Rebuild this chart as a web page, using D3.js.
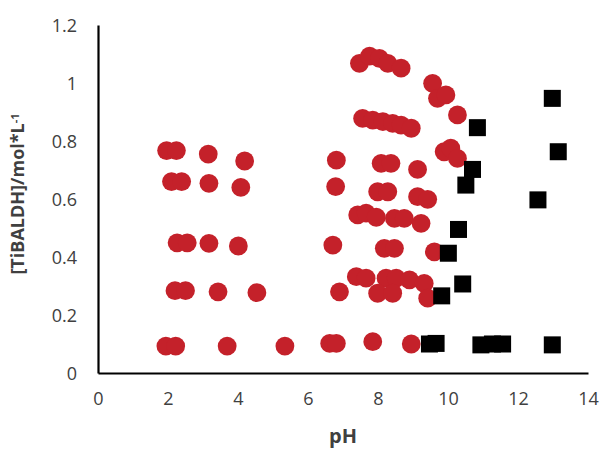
<!DOCTYPE html>
<html>
<head>
<meta charset="utf-8">
<script src="https://cdn.jsdelivr.net/npm/d3@7"></script>
<style>
  body { margin: 0; background: #fff; }
  svg text { font-family: "Open Sans", "Liberation Sans", sans-serif; }
</style>
</head>
<body>
<svg width="601" height="454"></svg>
<script>
// red circles: pH and concentration
const circlePH = [
  1.96, 2.24, 3.15, 4.19,
  2.10, 2.39, 3.17, 4.08,
  2.26, 2.55, 3.17, 4.01,
  2.20, 2.50, 3.43, 4.54,
  1.94, 2.22, 3.69, 5.34,
  7.47, 7.76, 8.04, 8.28, 8.66,
  9.56, 9.70, 9.94, 10.27,
  7.56, 7.85, 8.14, 8.42, 8.66, 8.95,
  9.89, 10.08, 10.27,
  6.81, 8.09, 8.37, 9.13,
  6.79, 7.99, 8.28, 9.13, 9.42,
  7.42, 7.66, 7.95, 8.47, 8.75, 9.23,
  6.71, 8.18, 8.47, 9.61,
  7.38, 7.66, 8.23, 8.52, 8.90, 9.32,
  6.90, 7.99, 8.42, 9.42,
  6.62, 6.81, 7.85, 8.95
];
const circleConc = [
  0.767, 0.767, 0.755, 0.731,
  0.660, 0.660, 0.654, 0.640,
  0.449, 0.449, 0.447, 0.438,
  0.284, 0.284, 0.280, 0.277,
  0.093, 0.093, 0.093, 0.093,
  1.068, 1.093, 1.085, 1.068, 1.051,
  0.999, 0.947, 0.959, 0.890,
  0.878, 0.872, 0.867, 0.861, 0.855, 0.844,
  0.763, 0.775, 0.740,
  0.734, 0.723, 0.723, 0.702,
  0.643, 0.625, 0.625, 0.608, 0.599,
  0.545, 0.551, 0.537, 0.533, 0.533, 0.516,
  0.441, 0.430, 0.430, 0.418,
  0.332, 0.327, 0.327, 0.327, 0.321, 0.309,
  0.280, 0.275, 0.275, 0.258,
  0.102, 0.102, 0.108, 0.100
];

// black squares
const squarePH = [12.98, 10.84, 13.15, 10.70, 10.51, 12.57, 10.30, 10.01,
                  10.42, 9.82, 9.47, 9.66, 10.94, 11.27, 11.56, 12.98];
const squareConc = [0.947, 0.846, 0.763, 0.702, 0.648, 0.597, 0.495, 0.413,
                    0.307, 0.266, 0.100, 0.102, 0.097, 0.100, 0.100, 0.097];

const xTicks = [0, 2, 4, 6, 8, 10, 12, 14];
const yTicks = [0, 0.2, 0.4, 0.6, 0.8, 1, 1.2];

const circles = circlePH.map((p, i) => ({ ph: p, c: circleConc[i] }));
const squares = squarePH.map((p, i) => ({ ph: p, c: squareConc[i] }));

const margin = { top: 25, right: 13, bottom: 81, left: 98 },
    width = 601 - margin.left - margin.right,
    height = 454 - margin.top - margin.bottom;

const svg = d3.select("svg")
  .append("g")
    .attr("transform", `translate(${margin.left},${margin.top})`);

const x = d3.scaleLinear().domain([0, 14]).range([0, width]);
const y = d3.scaleLinear().domain([0, 1.2]).range([height, 0]);

// points
svg.selectAll(".dot")
  .data(circles)
  .enter().append("circle")
    .attr("class", "dot")
    .attr("cx", d => x(d.ph))
    .attr("cy", d => y(d.c))
    .attr("r", 9.4)
    .attr("fill", "#c4212a");

const s = 17;
svg.selectAll(".sq")
  .data(squares)
  .enter().append("rect")
    .attr("class", "sq")
    .attr("x", d => x(d.ph) - s / 2)
    .attr("y", d => y(d.c) - s / 2)
    .attr("width", s)
    .attr("height", s)
    .attr("fill", "#000");

// axes
const xAxis = svg.append("g")
    .attr("transform", `translate(0,${height})`)
    .call(d3.axisBottom(x).tickValues(xTicks).tickSize(0).tickPadding(19).tickFormat(d3.format("d")));
const yAxis = svg.append("g")
    .call(d3.axisLeft(y).tickValues(yTicks).tickSize(0).tickPadding(21).tickFormat(d => d));

[xAxis, yAxis].forEach(a => {
  a.select(".domain").attr("stroke", "#000").attr("stroke-width", 2.2);
  a.selectAll("text").attr("fill", "#404040").style("font-size", "18px");
});
yAxis.selectAll("text").attr("dy", "0.36em");

// titles
svg.append("text")
    .attr("x", width / 2)
    .attr("y", height + 70)
    .attr("text-anchor", "middle")
    .attr("fill", "#404040")
    .style("font-size", "20px")
    .style("font-weight", "bold")
    .text("pH");

const yt = svg.append("text")
    .attr("transform", `translate(${-74},${height / 2 - 5}) rotate(-90)`)
    .attr("text-anchor", "middle")
    .attr("fill", "#404040")
    .style("font-size", "18px")
    .style("font-weight", "bold");
yt.append("tspan").text("[TiBALDH]/mol*L");
yt.append("tspan").attr("dy", "-0.45em").style("font-size", "11px").text("-1");
</script>
</body>
</html>
